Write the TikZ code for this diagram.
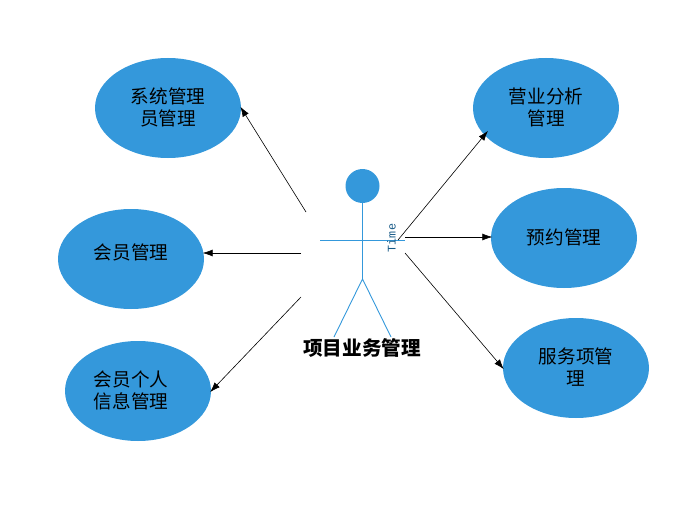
\documentclass[tikz,border=0pt]{standalone}
\usepackage{fontspec}
\setmainfont{Noto Sans CJK SC}
\setmonofont{Liberation Mono}
\usetikzlibrary{shapes.geometric,arrows.meta}
\definecolor{usecaseblue}{HTML}{3498DB}
\definecolor{timeblue}{HTML}{175A87}
\tikzset{
	usecase/.style = {ellipse, fill=usecaseblue, inner sep=0pt, minimum width=146pt, minimum height=100pt},
	usecasetext/.style = {inner sep=0pt, align=center, font=\fontsize{18.6pt}{22pt}\selectfont},
	actorline/.style = {draw=usecaseblue, line width=0.9pt},
	assoc/.style = {draw=black, line width=0.6pt, shorten >=-1.5pt, -{Latex[length=10pt,width=7pt]}}
}
\begin{document}
\begin{tikzpicture}[x=1pt,y=-1pt]
\useasboundingbox (0,0) rectangle (699,511);
\node[usecase] (sys) at (168,108) {};
\node[usecase] (member) at (131,259) {};
\node[usecase] (info) at (138,391) {};
\node[usecase] (sales) at (546,108) {};
\node[usecase] (booking) at (564,238) {};
\node[usecase] (service) at (576,368) {};
\node[usecasetext] (sysText) at (168,107) {系统管理\\员管理};
\node[usecasetext] (memberText) at (131,252) {会员管理};
\node[usecasetext] (infoText) at (131,390) {会员个人\\信息管理};
\node[usecasetext] (salesText) at (546,107) {营业分析\\管理};
\node[usecasetext] (bookingText) at (564,237) {预约管理};
\node[usecasetext] (serviceText) at (576,367) {服务项管\\理};
% actor
\node[circle, fill=usecaseblue, inner sep=0pt, minimum size=34pt] (head) at (362.5,186) {};
\coordinate (hip) at (362.5,279);
\coordinate (armL) at (320,240);
\coordinate (armR) at (405,240);
\coordinate (footL) at (334,337);
\coordinate (footR) at (391,337);
\draw[actorline] (head) -- (hip);
\draw[actorline] (armL) -- (armR);
\draw[actorline] (footL) -- (hip) -- (footR);
\node[rotate=90, text=timeblue, inner sep=0pt, font=\ttfamily\fontsize{11.7pt}{12pt}\selectfont] (time) at (391.5,238) {Time};
\node[inner sep=0pt, font=\bfseries\fontsize{19.6pt}{22pt}\selectfont] (actor) at (362,348) {项目业务管理};
% arrows
\coordinate (fromSys) at (306,212);
\coordinate (fromMember) at (301,253);
\coordinate (fromInfo) at (301,297);
\coordinate (fromSales) at (398,240);
\coordinate (fromBooking) at (405,237);
\coordinate (fromService) at (405,253);
\coordinate (toSales) at (487,132);
\draw[assoc] (fromSys) -- (sys.east);
\draw[assoc] (fromMember) -- (member.east |- fromMember);
\draw[assoc] (fromInfo) -- (info.east);
\draw[assoc] (fromSales) -- (toSales);
\draw[assoc] (fromBooking) -- (booking.west |- fromBooking);
\draw[assoc] (fromService) -- (service.west);
\end{tikzpicture}
\end{document}
